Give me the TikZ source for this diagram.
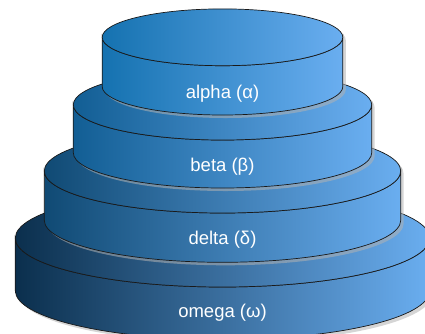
\documentclass[tikz,border=0pt]{standalone}
\usepackage{fontspec}
\newfontfamily\labelfont{Liberation Sans}
\definecolor{tierright}{HTML}{6AAEF0}
\definecolor{leftA}{HTML}{1572B0}
\definecolor{leftB}{HTML}{125E94}
\definecolor{leftC}{HTML}{104A74}
\definecolor{leftD}{HTML}{0B2F4D}
\tikzset{
  tierline/.style={draw=black!90, line width=0.7pt},
  tiershadow/.style={fill=black!30, fill opacity=0.55},
  tierlabel/.style={text=white, font=\labelfont\fontsize{18.5}{20}\selectfont, inner sep=0pt, anchor=center}
}
% #1 name, #2 cx, #3 cy, #4 rx, #5 ry, #6 h, #7 left colour, #8 label, #9 label y
\newcommand\tier[9]{%
  \pgfmathsetmacro\TierL{#2-#4}%
  \pgfmathsetmacro\TierR{#2+#4}%
  \pgfmathsetmacro\TierT{-(#3)}%
  \pgfmathsetmacro\TierB{-(#3+#6)}%
  \pgfmathsetmacro\TierSL{#2-#4+3}%
  \pgfmathsetmacro\TierST{-(#3)-3}%
  \fill[tiershadow] (\TierSL,\TierST) arc[start angle=180,end angle=0,x radius=#4,y radius=#5]
     -- ++(0,-#6) arc[start angle=0,end angle=-180,x radius=#4,y radius=#5] -- cycle;
  \path[tierline, left color=#7, right color=tierright] (\TierL,\TierT) -- (\TierL,\TierB)
     arc[start angle=180,end angle=360,x radius=#4,y radius=#5]
     -- (\TierR,\TierT) arc[start angle=0,end angle=-180,x radius=#4,y radius=#5] -- cycle;
  \path[tierline, left color=#7, right color=tierright] (#2,\TierT) ellipse[x radius=#4,y radius=#5];
  \node[tierlabel] (#1) at (#2,-#9) {#8};
}
\begin{document}
\begin{tikzpicture}[x=1pt,y=1pt]
\useasboundingbox (0,0) rectangle (425,-333);
\tier{omega}{222.5}{238.1}{207.2}{48.9}{52.6}{leftD}{omega (ω)}{313}
\tier{delta}{222.5}{171}{178.2}{42}{49.3}{leftC}{delta (δ)}{239.7}
\tier{beta}{222.5}{104.8}{149.2}{35.2}{48}{leftB}{beta (β)}{167}
\tier{alpha}{222.5}{37.3}{120.3}{28.4}{49.3}{leftA}{alpha (α)}{93.3}
\end{tikzpicture}
\end{document}
